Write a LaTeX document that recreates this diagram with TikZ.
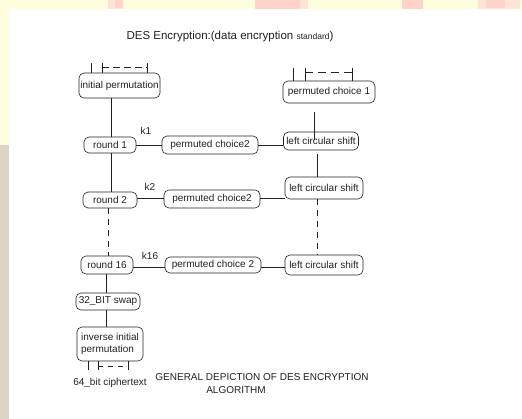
\documentclass[tikz,border=0pt]{standalone}
\usepackage{fontspec}
\setmainfont{Liberation Sans}
\usetikzlibrary{calc}
\definecolor{bgyellow}{HTML}{FFFEDC}
\definecolor{bgpink}{HTML}{FFD2CA}
\definecolor{bglpink}{HTML}{FFE4D6}
\definecolor{bgbeige}{HTML}{DCD4C7}
\definecolor{ink}{HTML}{222222}
\begin{document}
\begin{tikzpicture}[x=1pt,y=-1pt,
  box/.style={draw=ink, line width=0.6pt, rounded corners=5pt, inner sep=0pt,
    font=\fontsize{10}{11.5}\selectfont, text=ink},
  conn/.style={draw=ink, line width=0.6pt},
  dconn/.style={draw=ink, line width=0.6pt, dash pattern=on 6pt off 5pt},
  lbl/.style={inner sep=0pt, font=\fontsize{10}{11}\selectfont, text=ink},
  ttl/.style={inner sep=0pt, font=\fontsize{11.5}{13}\selectfont, text=ink}]
\useasboundingbox (0,0) rectangle (522,419);
% background
\fill[white] (0,0) rectangle (522,419);
\fill[bgyellow] (0,0) rectangle (522,9);
\fill[bgyellow] (0,0) rectangle (9,145);
\fill[bgbeige] (0,145) rectangle (9,419);
\fill[bglpink] (108,0) rectangle (123,9);
\fill[bgpink] (115,0) rectangle (123,8);
\fill[bgpink] (255,0) rectangle (300,9);
\fill[bglpink] (300,0) rectangle (308,9);
\fill[bgpink] (402,0) rectangle (423,9);
\fill[bglpink] (478,0) rectangle (520,9);
\fill[bgpink] (486,0) rectangle (505,8);

% title
\node[ttl] (title) at (230,37) {DES Encryption:(data encryption {\fontsize{8.5}{10}\selectfont standard})};

% nodes
\node[box, minimum width=81pt, minimum height=25pt] (ip) at (119.5,85.5) {initial permutation};
\node[box, minimum width=92pt, minimum height=22pt] (pc1) at (329,92) {permuted choice 1};
\node[box, minimum width=52pt, minimum height=16pt] (r1) at (110,145) {round 1};
\node[box, minimum width=96pt, minimum height=18pt] (pca) at (210,145) {permuted choice2};
\node[box, minimum width=75pt, minimum height=18pt] (lcs1) at (321,141) {left circular shift};
\node[box, minimum width=54pt, minimum height=16pt] (r2) at (110,200) {round 2};
\node[box, minimum width=96pt, minimum height=18pt] (pcb) at (212,199) {permuted choice2};
\node[box, minimum width=78pt, minimum height=22pt] (lcs2) at (324,188) {left circular shift};
\node[box, minimum width=52pt, minimum height=18pt] (r16) at (107,265) {round 16};
\node[box, minimum width=96pt, minimum height=16pt] (pcc) at (213,265) {permuted choice 2};
\node[box, minimum width=78pt, minimum height=20pt] (lcs16) at (324,265) {left circular shift};
\node[box, minimum width=64pt, minimum height=17pt] (swap) at (108,301.5) {32\_BIT swap};
\node[box, minimum width=66pt, minimum height=34pt, align=left] (iip) at (110,344) {inverse initial\\permutation};

% labels
\node[lbl] (k1) at (146,131) {k1};
\node[lbl] (k2) at (150,187) {k2};
\node[lbl] (k16) at (150,256) {k16};
\node[lbl] (ct) at (110,383) {64\_bit ciphertext};
\node[lbl] (gen1) at (262,377) {GENERAL DEPICTION OF DES ENCRYPTION};
\node[lbl] (gen2) at (236,390) {ALGORITHM};

% left column connectors
\draw[conn] (ip.south -| 111,0) -- (r1.north -| 111,0);
\draw[conn] (r1.south -| 111,0) -- (r2.north -| 111,0);
\draw[dconn] (r2.south -| 108,0) -- (r16.north -| 108,0);
\draw[conn] (r16.south -| 106,0) -- (swap.north -| 106,0);
\draw[conn] (swap.south -| 106,0) -- (iip.north -| 106,0);

% rows
\draw[conn] (r1.east) -- (pca.west);
\draw[conn] (pca.east) -- (lcs1.west |- pca.east);
\draw[conn] (r2.east |- 0,198) -- (pcb.west |- 0,198);
\draw[conn] (pcb.east |- 0,198) -- (lcs2.west |- 0,198);
\draw[conn] (r16.east |- 0,267) -- (pcc.west |- 0,267);
\draw[conn] (pcc.east |- 0,267) -- (lcs16.west |- 0,267);

% right column connectors
\coordinate (pcgap) at ($(pc1.south -| 314,0)+(0,9)$);
\draw[conn] (pcgap) -- (314,140);
\coordinate (lcsgap) at ($(lcs1.south -| 317,0)+(0,4)$);
\draw[conn] (lcsgap) -- (lcs2.north -| 317,0);
\draw[dconn] (lcs2.south -| 317,0) -- (lcs16.north -| 317,0);

% tick marks (inputs / outputs)
\draw[conn] (91,63) -- (91,73) (102,63) -- (102,73) (147,63) -- (147,73);
\draw[dconn, dash pattern=on 7pt off 4pt] (102,67) -- (147,67);
\draw[conn] (293,68) -- (293,81) (305,68) -- (305,81) (352,68) -- (352,81);
\draw[dconn, dash pattern=on 8pt off 5pt] (305,72) -- (352,72);
\draw[conn] (88,361) -- (88,370) (98,361) -- (98,370) (128,361) -- (128,370);
\draw[dconn, dash pattern=on 5pt off 5pt] (98,366) -- (128,366);
\end{tikzpicture}
\end{document}
